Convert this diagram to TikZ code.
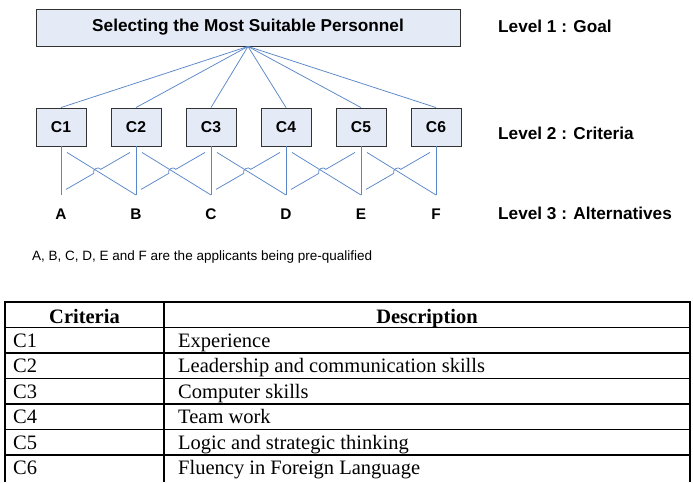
\documentclass[tikz,border=0pt]{standalone}
\usepackage{fontspec}
\setmainfont{Liberation Serif}
\setsansfont{Liberation Sans}
\usetikzlibrary{calc}
\definecolor{boxfill}{HTML}{E5EBF6}
\definecolor{linkblue}{HTML}{5A87C9}
\definecolor{boxline}{HTML}{333333}
\begin{document}
\begin{tikzpicture}[x=1pt,y=-1pt,
  goalbox/.style={draw=boxline, fill=boxfill, line width=0.9pt, minimum width=424pt, minimum height=37pt, inner sep=0pt, font=\sffamily\bfseries\fontsize{17.2}{20}\selectfont},
  critbox/.style={draw=boxline, fill=boxfill, line width=0.9pt, minimum width=50pt, minimum height=38pt, inner sep=0pt, font=\sffamily\bfseries\fontsize{15.7}{18}\selectfont},
  altlab/.style={anchor=base, inner sep=0pt, font=\sffamily\bfseries\fontsize{15.4}{18}\selectfont},
  levellab/.style={anchor=base west, inner sep=0pt, font=\sffamily\bfseries\fontsize{17.2}{20}\selectfont},
  notelab/.style={anchor=base west, inner sep=0pt, font=\sffamily\fontsize{13.5}{16}\selectfont},
  link/.style={draw=linkblue, line width=0.75pt},
  tabline/.style={line width=1.6pt, black},
  tabhead/.style={anchor=base, inner sep=0pt, font=\bfseries\fontsize{20.5}{24}\selectfont},
  tabcell/.style={anchor=base west, inner sep=0pt, font=\fontsize{20.5}{24}\selectfont}
]
\useasboundingbox (0,0) rectangle (693,482);
\fill[white] (0,0) rectangle (693,482);

% goal
\node[goalbox] (goal) at (248,27.5) {Selecting the Most Suitable Personnel};
\node[levellab] (lv1) at (498,32.5) {Level 1 : Goal};
\node[levellab] (lv2) at (498,139) {Level 2 : Criteria};
\node[levellab] (lv3) at (498,219) {Level 3 : Alternatives};

% criteria and alternatives
\foreach \i/\x/\L in {1/61/A,2/136/B,3/211/C,4/286/D,5/361/E,6/436/F}{
  \node[critbox] (c\i) at (\x,127) {C\i};
  \coordinate (v\i) at (\x,195);
  \node[altlab] (alt\i) at (\x,219) {\L};
  \draw[link] (goal.south) -- (c\i.north);
  \draw[link] (c\i.south) -- (v\i);
}

% crossing connectors with hops
\foreach \i [evaluate=\i as \j using int(\i+1)] in {1,...,5}{
  \coordinate (p\i) at ($(c\i.south)+(6,6)$);
  \coordinate (r\i) at ($(c\i.south)+(5,43)$);
  \coordinate (q\i) at ($(c\j.south)+(-6,6)$);
  \coordinate (ha\i) at ($(c\i.south)+(32.86,26.89)$);
  \coordinate (hb\i) at ($(c\i.south)+(39.78,22.89)$);
  \draw[link] (p\i) -- (v\j);
  \draw[link] (r\i) -- (ha\i) to[bend left=90, looseness=1.35] (hb\i) -- (q\i);
}

% note
\node[notelab] (note) at (32,260.5) {A, B, C, D, E and F are the applicants being pre-qualified};

% table
\draw[tabline] (5,302) -- (690,302);
\foreach \y in {327.5,353,378.5,404,429.5,455}{
  \draw[tabline] (5,\y) -- (690,\y);
}
\draw[tabline] (5,301.2) -- (5,482);
\draw[tabline] (164,301.2) -- (164,482);
\draw[tabline] (690,301.2) -- (690,482);

\node[tabhead] (th1) at (84.5,323) {Criteria};
\node[tabhead] (th2) at (427,323) {Description};
\foreach \k/\d [count=\n] in {C1/Experience, C2/Leadership and communication skills, C3/Computer skills, C4/Team work, C5/Logic and strategic thinking, C6/Fluency in Foreign Language}{
  \node[tabcell] (tc\n) at (13,{327.5+25.5*(\n-1)+19.5}) {\k};
  \node[tabcell] (td\n) at (178,{327.5+25.5*(\n-1)+19.5}) {\d};
}
\end{tikzpicture}
\end{document}
